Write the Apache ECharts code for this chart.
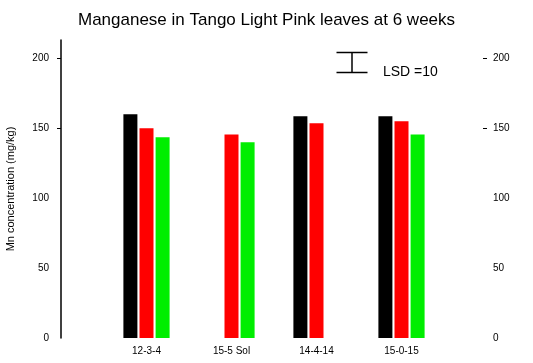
<!DOCTYPE html>
<html><head><meta charset="utf-8">
<script src="https://cdn.jsdelivr.net/npm/echarts@6/dist/echarts.min.js"></script>
<style>html,body{margin:0;padding:0;background:#fff}#c{width:533px;height:363px}</style>
</head><body><div id="c"></div>
<script>
const categories = ['12-3-4', '15-5 Sol', '14-4-14', '15-0-15'];
const blackVals = [160, null, 158.5, 158.5];
const redVals = [150, 145.5, 153.5, 155];
const greenVals = [143.5, 140, null, 145.5];
const yTicks = [0, 50, 100, 150, 200];
const tickMarks = [150, 200];
const lsd = 10;

const chart = echarts.init(document.getElementById('c'));
const font = 'Liberation Sans, Arial, sans-serif';
function bar(name, data, color) {
  return { name, type: 'bar', data, barWidth: 14, barGap: '15%',
    itemStyle: { color }, silent: true, animation: false };
}
chart.setOption({
  animation: false,
  title: { text: 'Manganese in Tango Light Pink leaves at 6 weeks', left: 'center', top: 7,
    textStyle: { fontFamily: font, fontSize: 17, fontWeight: 'normal', color: '#000' } },
  grid: { left: 104, right: 89, top: 40, bottom: 25, outerBoundsMode: 'none', containLabel: false },
  xAxis: { type: 'category', data: categories,
    axisLine: { show: false }, axisTick: { show: false },
    axisLabel: { margin: 8, fontFamily: font, fontSize: 10, color: '#000' } },
  yAxis: [
    { type: 'value', min: 0, max: 213, interval: 50, position: 'left', offset: 43,
      name: 'Mn concentration (mg/kg)', nameLocation: 'middle', nameGap: 45, nameRotate: 90,
      nameTextStyle: { fontFamily: font, fontSize: 11, color: '#000' },
      axisLine: { show: true, lineStyle: { color: '#000', width: 1.5 } },
      axisTick: { show: true, length: 4, customValues: tickMarks, lineStyle: { color: '#000' } },
      axisLabel: { customValues: yTicks, fontFamily: font, fontSize: 10, color: '#000', margin: 12 },
      splitLine: { show: false } },
    { type: 'value', min: 0, max: 213, interval: 50, position: 'right', offset: 39,
      axisLine: { show: false },
      axisTick: { show: true, inside: false, length: 4, customValues: tickMarks, lineStyle: { color: '#000' } },
      axisLabel: { customValues: yTicks, fontFamily: font, fontSize: 10, color: '#000', margin: 10 },
      splitLine: { show: false } }
  ],
  series: [bar('A', blackVals, '#000000'), bar('B', redVals, '#ff0000'), bar('C', greenVals, '#00ee00')],
  graphic: [
    { type: 'group', left: 334, top: 50, children: [
      { type: 'line', shape: { x1: 0, y1: 0, x2: 31, y2: 0 }, style: { stroke: '#000', lineWidth: 1.5 } },
      { type: 'line', shape: { x1: 15.5, y1: 0, x2: 15.5, y2: 20 }, style: { stroke: '#000', lineWidth: 1.5 } },
      { type: 'line', shape: { x1: 0, y1: 20, x2: 31, y2: 20 }, style: { stroke: '#000', lineWidth: 1.5 } }
    ]},
    { type: 'text', left: 383, top: 65, style: { text: 'LSD =' + lsd, fontFamily: font, fontSize: 14, fill: '#000' } }
  ]
});
</script></body></html>
